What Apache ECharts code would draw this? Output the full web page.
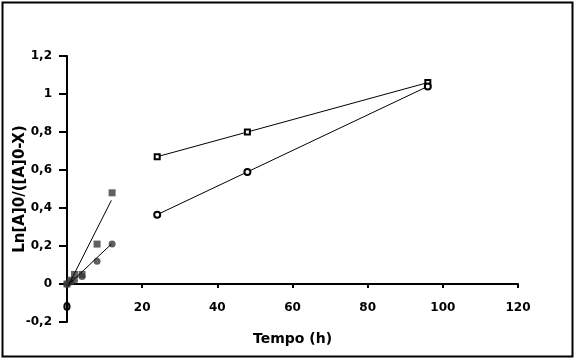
<!DOCTYPE html>
<html>
<head>
<meta charset="utf-8">
<script src="https://cdn.jsdelivr.net/npm/echarts@6/dist/echarts.min.js"></script>
<style>
html,body{margin:0;padding:0;background:#fff;}
#c{width:577px;height:361px;}
</style>
</head>
<body>
<div id="c"></div>
<script>
// Data
const openSquares = [[24, 0.67], [48, 0.80], [96, 1.06]];
const openCircles = [[24, 0.365], [48, 0.59], [96, 1.04]];
const filledSquares = [[0, 0], [1, 0.02], [2, 0.05], [4, 0.05], [8, 0.21], [12, 0.48]];
const filledCircles = [[0, 0], [1, 0.01], [2, 0.02], [4, 0.04], [8, 0.12], [12, 0.21]];
const trendSquares = [[0.3, -0.01], [11.8, 0.44]];
const trendCircles = [[0.3, -0.005], [11.8, 0.21]];
const xTicks = { min: 0, max: 120, interval: 20 };
const yTicks = { min: -0.2, max: 1.2, interval: 0.2 };
const xTitle = 'Tempo (h)';
const yTitle = 'Ln[A]0/([A]0-X)';

const FONT = 'DejaVu Sans';
const chart = echarts.init(document.getElementById('c'), null, { renderer: 'canvas' });
const fmt = v => String(+v.toFixed(2)).replace('.', ',');

chart.setOption({
  animation: false,
  backgroundColor: '#fff',
  graphic: [{
    type: 'rect',
    shape: { x: 2.5, y: 2.5, width: 570, height: 354 },
    style: { fill: 'none', stroke: '#000', lineWidth: 2 },
    z: 100
  }],
  grid: { left: 67, right: 59, top: 56, bottom: 39, containLabel: false, outerBoundsMode: 'none' },
  xAxis: {
    type: 'value',
    min: xTicks.min, max: xTicks.max, interval: xTicks.interval,
    name: xTitle,
    nameLocation: 'middle',
    nameGap: 10,
    nameMoveOverlap: false,
    nameTextStyle: { fontFamily: FONT, fontWeight: 'bold', fontSize: 14, color: '#000' },
    axisLine: { onZero: true, lineStyle: { color: '#000', width: 2 } },
    axisTick: { show: true, inside: false, length: 4, lineStyle: { color: '#000', width: 2 } },
    axisLabel: { margin: -20, fontFamily: FONT, fontWeight: 'bold', fontSize: 12, color: '#000', formatter: fmt },
    splitLine: { show: false }
  },
  yAxis: {
    type: 'value',
    min: yTicks.min, max: yTicks.max, interval: yTicks.interval,
    name: yTitle,
    nameLocation: 'middle',
    nameGap: 39,
    nameRotate: 90,
    nameMoveOverlap: false,
    nameTextStyle: { fontFamily: FONT, fontWeight: 'bold', fontSize: 15, color: '#000' },
    axisLine: { show: true, onZero: false, lineStyle: { color: '#000', width: 2 } },
    axisTick: { show: true, inside: false, length: 8, lineStyle: { color: '#000', width: 2 } },
    axisLabel: { margin: 15, fontFamily: FONT, fontWeight: 'bold', fontSize: 12, color: '#000', formatter: fmt },
    splitLine: { show: false }
  },
  series: [
    {
      type: 'line', data: openSquares, symbol: 'emptyRect', symbolSize: 5,
      lineStyle: { color: '#000', width: 1 }, itemStyle: { color: '#000', borderColor: '#000', borderWidth: 1 }
    },
    {
      type: 'line', data: openCircles, symbol: 'emptyCircle', symbolSize: 6,
      lineStyle: { color: '#000', width: 1 }, itemStyle: { color: '#000', borderColor: '#000', borderWidth: 1 }
    },
    {
      type: 'line', data: trendSquares, symbol: 'none',
      lineStyle: { color: '#000', width: 1 }
    },
    {
      type: 'line', data: trendCircles, symbol: 'none',
      lineStyle: { color: '#000', width: 1 }
    },
    {
      type: 'scatter', data: filledSquares, symbol: 'rect', symbolSize: 7,
      itemStyle: { color: '#3a3a3a' }
    },
    {
      type: 'scatter', data: filledCircles, symbol: 'circle', symbolSize: 7,
      itemStyle: { color: '#3a3a3a' }
    }
  ]
});
</script>
</body>
</html>
